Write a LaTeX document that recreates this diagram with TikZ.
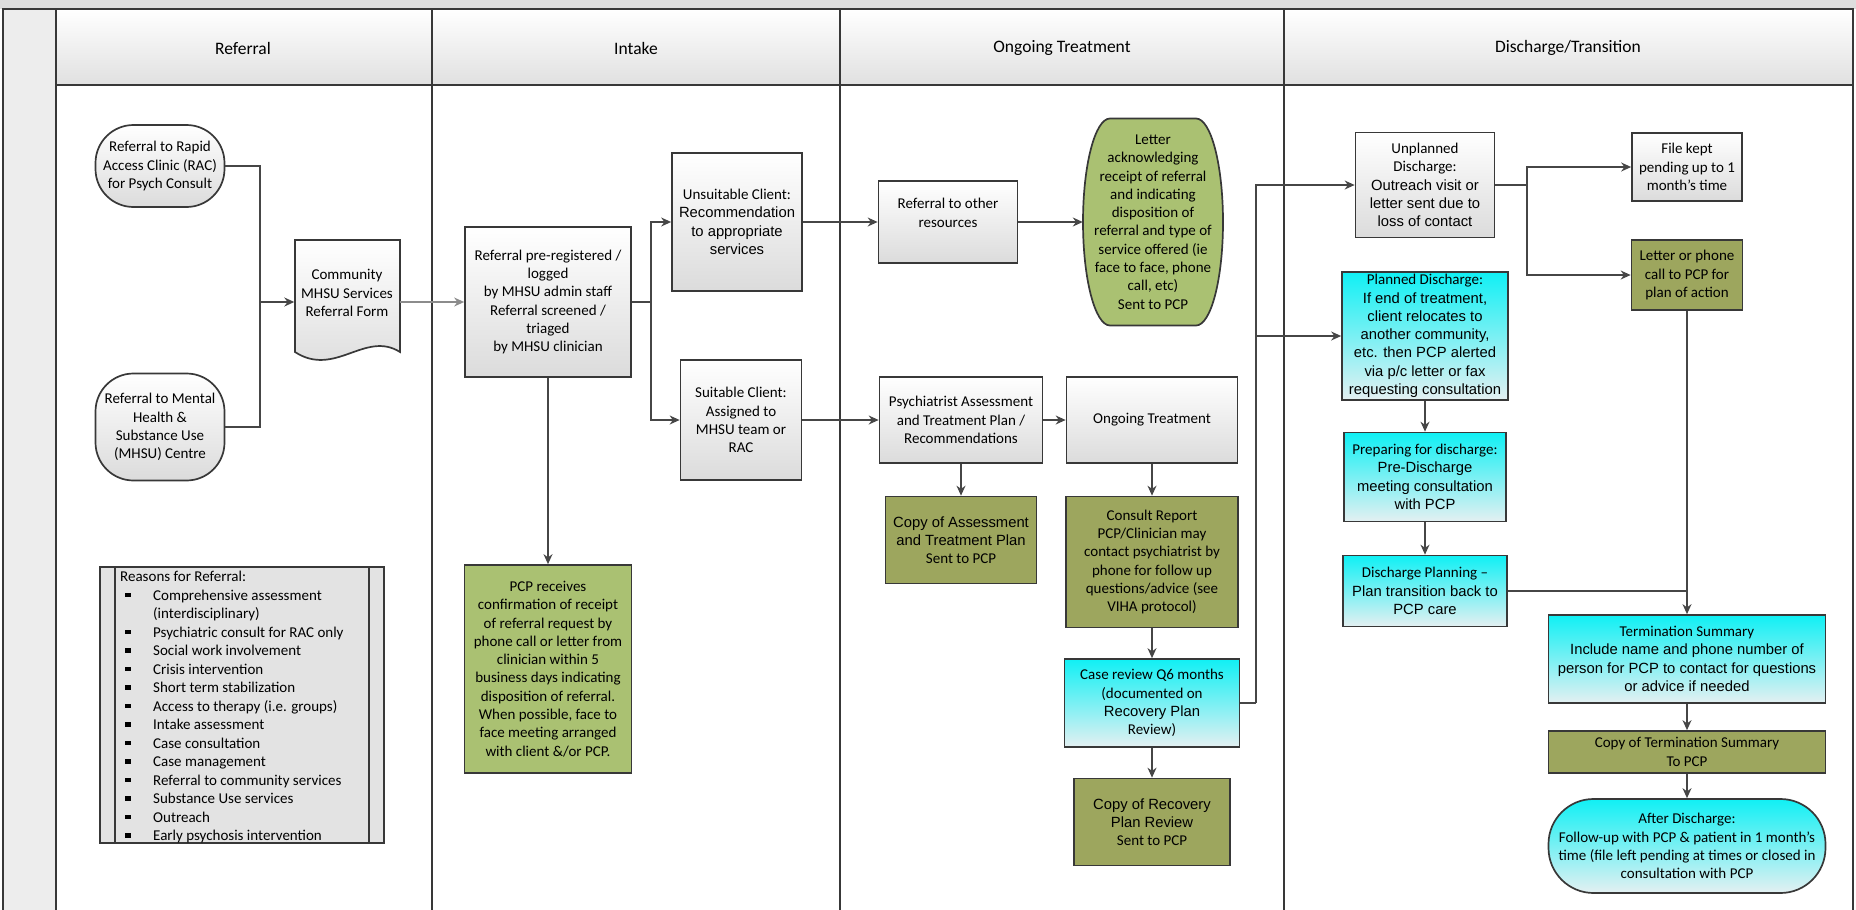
\documentclass[tikz,border=0pt]{standalone}
\usepackage{fontspec}
\setmainfont{Carlito}
\newfontfamily\arialfont{Liberation Sans}
\usetikzlibrary{arrows.meta,positioning}

\definecolor{edge}{RGB}{56,56,56}
\definecolor{wire}{RGB}{70,70,70}
\definecolor{sage}{RGB}{170,193,114}
\definecolor{olive}{RGB}{157,166,94}
\definecolor{aqua}{RGB}{16,240,244}
\definecolor{mist}{RGB}{228,240,242}

\newcommand{\ari}[1]{{\arialfont\fontsize{14.8}{18.3}\selectfont #1}}
\newcommand{\bul}{\hspace*{5pt}\makebox[28pt][l]{\rule[3pt]{6pt}{4.5pt}}}

\begin{document}
\begin{tikzpicture}
    [x=1pt,y=-1pt,inner sep=0pt,
    font=\fontsize{15}{18.3}\selectfont,
    lane/.style={draw=edge,line width=1.6pt},
    head/.style={font=\fontsize{17.5}{20}\selectfont},
    box/.style={rectangle,draw=edge,line width=1.7pt,align=center},
    process/.style={box,top color=white,bottom color=black!14},
    terminal/.style={process,rounded corners=38pt},
    notice/.style={box,fill=sage},
    sendout/.style={box,fill=olive},
    recall/.style={box,top color=aqua,bottom color=mist},
    link/.style={draw=wire,line width=1.5pt},
    flow/.style={link,-{Stealth[length=10pt,width=9pt]}}]
    \useasboundingbox (0,0) rectangle (1856,910);

    % swimlane frame
    \fill[black!13] (0,0) rectangle (1856,9);
    \fill[black!7] (3,9) rectangle (56,910);
    \shade[top color=white,bottom color=black!12] (56,9) rectangle (1853,85);
    \draw[lane] (3,910) -- (3,9) -- (1853,9) -- (1853,910);
    \draw[lane] (56,9) -- (56,910);
    \draw[lane,line width=2.6pt] (56,85) -- (1853,85);
    \foreach \x in {432,840,1284}
        \draw[lane] (\x,9) -- (\x,910);
    \node at (243,48) [head] (hreferral) {Referral};
    \node at (636,48) [head] (hintake) {Intake};
    \node at (1062,48) [head] (hongoing) {Ongoing Treatment};
    \node at (1568,48) [head] (hdischarge) {Discharge/Transition};

    % referral
    \node at (160,166) [terminal,minimum width=129,minimum height=82] (rac)
        {Referral to Rapid\\Access Clinic (RAC)\\for Psych Consult};
    \node at (160,427) [terminal,minimum width=129,minimum height=107] (mhsu)
        {Referral to Mental\\Health \&\\Substance Use\\(MHSU) Centre};
    \path[top color=white,bottom color=black!14,draw=edge,line width=1.7pt]
        (295,240) -- (400,240) -- (400,352) .. controls (365,330) and (335,378) .. (295,352) -- cycle;
    \node at (347,302) [minimum width=105,minimum height=112,align=center] (form)
        {Community\\MHSU Services\\Referral Form\\\mbox{}};
    \node at (99,566) [anchor=north west,minimum width=284,minimum height=276,
        draw=edge,line width=1.7pt,fill=black!11] (reasons) {};
    \draw[lane] ([xshift=16pt]reasons.north west) -- ([xshift=16pt]reasons.south west);
    \draw[lane] ([xshift=-16pt]reasons.north east) -- ([xshift=-16pt]reasons.south east);
    \node at (120,571) [anchor=north west,align=left,font=\fontsize{15}{18.5}\selectfont] (reasonlist)
        {Reasons for Referral:\\
         \bul Comprehensive assessment\\
         \hspace*{33pt}(interdisciplinary)\\
         \bul Psychiatric consult for RAC only\\
         \bul Social work involvement\\
         \bul Crisis intervention\\
         \bul Short term stabilization\\
         \bul Access to therapy (i.e. groups)\\
         \bul Intake assessment\\
         \bul Case consultation\\
         \bul Case management\\
         \bul Referral to community services\\
         \bul Substance Use services\\
         \bul Outreach\\
         \bul Early psychosis intervention};

    % intake
    \node at (548,302) [process,minimum width=166,minimum height=150] (intake)
        {Referral pre-registered /\\logged\\by MHSU admin staff\\Referral screened /\\triaged\\by MHSU clinician};
    \node at (737,222) [process,minimum width=130,minimum height=138] (unsuit)
        {Unsuitable Client:\\\ari{Recommendation}\\\ari{to appropriate}\\\ari{services}};
    \node at (741,420) [process,minimum width=121,minimum height=120] (suit)
        {Suitable Client:\\Assigned to\\MHSU team or\\RAC};
    \node at (548,669) [notice,minimum width=167,minimum height=208] (pcp)
        {PCP receives\\confirmation of receipt\\of referral request by\\phone call or letter from\\clinician within 5\\business days indicating\\disposition of referral.\\When possible, face to\\face meeting arranged\\with client \&/or PCP.};

    % ongoing treatment
    \node at (948,222) [process,minimum width=139,minimum height=82] (other)
        {Referral to other\\resources\\\mbox{}};
    \path[fill=sage,draw=edge,line width=1.7pt] (1110,118.5) -- (1196,118.5)
        arc[start angle=90,end angle=-90,x radius=27pt,y radius=103.5pt]
        -- (1110,325.5)
        arc[start angle=270,end angle=90,x radius=27pt,y radius=103.5pt] -- cycle;
    \node at (1153,222) [minimum width=140,minimum height=207,align=center] (letter)
        {Letter\\acknowledging\\receipt of referral\\and indicating\\disposition of\\referral and type of\\service offered (ie\\face to face, phone\\call, etc)\\Sent to PCP};
    \node at (961,420) [process,minimum width=163,minimum height=86] (psych)
        {Psychiatrist Assessment\\and Treatment Plan /\\Recommendations};
    \node at (1152,420) [process,minimum width=171,minimum height=86] (ongoing)
        {Ongoing Treatment};
    \node at (961,540) [sendout,minimum width=151,minimum height=87] (copyplan)
        {\ari{Copy of Assessment}\\\ari{and Treatment Plan}\\Sent to PCP};
    \node at (1152,562) [sendout,minimum width=172,minimum height=131] (consult)
        {Consult Report\\PCP/Clinician may\\contact psychiatrist by\\phone for follow up\\questions/advice (see\\VIHA protocol)};
    \node at (1152,703) [recall,minimum width=175,minimum height=88] (review)
        {Case review Q6 months\\(documented on\\\ari{Recovery Plan}\\Review)};
    \node at (1152,822) [sendout,minimum width=156,minimum height=87] (copyreview)
        {\ari{Copy of Recovery}\\\ari{Plan Review}\\Sent to PCP};

    % discharge / transition
    \node at (1425,185) [process,minimum width=139,minimum height=105] (unplanned)
        {Unplanned\\Discharge:\\\ari{Outreach visit or}\\\ari{letter sent due to}\\\ari{loss of contact}};
    \node at (1687,167) [process,minimum width=110,minimum height=68] (filekept)
        {File kept\\pending up to 1\\month's time};
    \node at (1687,275) [sendout,minimum width=111,minimum height=70] (callpcp)
        {Letter or phone\\call to PCP for\\plan of action};
    \node at (1425,336) [recall,minimum width=166,minimum height=128] (planned)
        {Planned Discharge:\\\ari{If end of treatment,}\\\ari{client relocates to}\\\ari{another community,}\\\ari{etc. then PCP alerted}\\\ari{via p/c letter or fax}\\\ari{requesting consultation}};
    \node at (1425,477) [recall,minimum width=162,minimum height=89] (preparing)
        {Preparing for discharge:\\\ari{Pre-Discharge}\\\ari{meeting consultation}\\\ari{with PCP}};
    \node at (1425,591) [recall,minimum width=164,minimum height=71] (dplanning)
        {Discharge Planning --\\\ari{Plan transition back to}\\\ari{PCP care}};
    \node at (1687,659) [recall,minimum width=277,minimum height=88] (termination)
        {Termination Summary\\\ari{Include name and phone number of}\\\ari{person for PCP to contact for questions}\\\ari{or advice if needed}};
    \node at (1687,752) [sendout,minimum width=277,minimum height=42] (copyterm)
        {Copy of Termination Summary\\To PCP};
    \node at (1687,846) [recall,rounded corners=45pt,minimum width=277,minimum height=94] (after)
        {After Discharge:\\Follow-up with PCP \& patient in 1 month's\\time (file left pending at times or closed in\\consultation with PCP};

    % connectors
    \coordinate (rjoin) at (260,302);
    \draw[link] (rac.east) -| (rjoin);
    \draw[link] (mhsu.east) -| (rjoin);
    \draw[flow] (rjoin) -- (form.west);
    \draw[flow,draw=black!45] (form.east) -- (intake.west);
    \coordinate (ijoin) at (651,302);
    \draw[link] (intake.east) -- (ijoin);
    \draw[flow] (ijoin) |- (unsuit.west);
    \draw[flow] (ijoin) |- (suit.west);
    \draw[flow] (intake.south) -- (pcp.north);
    \draw[flow] (unsuit.east) -- (other.west);
    \draw[flow] (other.east) -- (letter.west);
    \draw[flow] (suit.east) -- (psych.west);
    \draw[flow] (psych.east) -- (ongoing.west);
    \draw[flow] (psych.south) -- (copyplan.north);
    \draw[flow] (ongoing.south) -- (consult.north);
    \draw[flow] (consult.south) -- (review.north);
    \draw[flow] (review.south) -- (copyreview.north);
    \coordinate (ojoin) at (1256,703);
    \draw[link] (review.east) -- (ojoin);
    \draw[flow] (ojoin) |- (unplanned.west);
    \draw[flow] (ojoin |- planned.west) -- (planned.west);
    \coordinate (djoin) at (1527,185);
    \draw[link] (unplanned.east) -- (djoin);
    \draw[flow] (djoin) |- (filekept.west);
    \draw[flow] (djoin) |- (callpcp.west);
    \draw[flow] (planned.south) -- (preparing.north);
    \draw[flow] (preparing.south) -- (dplanning.north);
    \draw[flow] (callpcp.south) -- (termination.north);
    \draw[link] (dplanning.east) -- (dplanning.east -| termination.north);
    \draw[flow] (termination.south) -- (copyterm.north);
    \draw[flow] (copyterm.south) -- (after.north);
\end{tikzpicture}
\end{document}
